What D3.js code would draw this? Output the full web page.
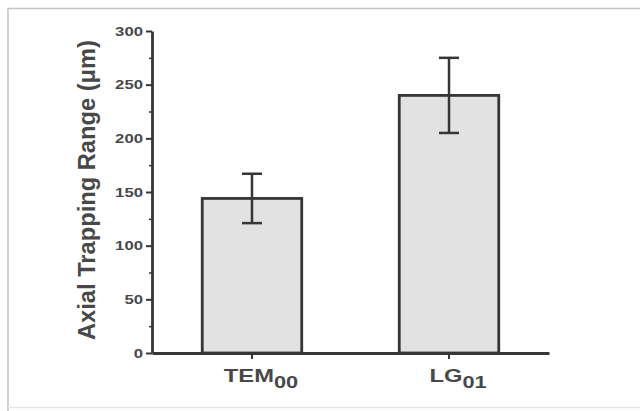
<!DOCTYPE html>
<html>
<head>
<meta charset="utf-8">
<script src="https://cdn.jsdelivr.net/npm/d3@7"></script>
<style>
  body { margin: 0; background: #fff; }
  text { font-family: "Liberation Sans", Arial, sans-serif; font-weight: bold; fill: #484848; }
</style>
</head>
<body>
<div class="chart"></div>
<script>
// Axial trapping range for the two beam modes, mean with error bar

var categories = ["TEM", "LG"];
var subscripts = ["00", "01"];
var means = [144, 240];
var errors = [23, 35];
var yTicks = [0, 50, 100, 150, 200, 250, 300];

var svgWidth = 640;
var svgHeight = 411;

var margin = { top: 31, right: 91, bottom: 58, left: 152 };

var width = svgWidth - margin.left - margin.right;
var height = svgHeight - margin.top - margin.bottom;

var svg = d3.select(".chart")
  .append("svg")
  .attr("width", svgWidth)
  .attr("height", svgHeight);

// faint frame of the scanned figure
svg.append("path")
  .attr("d", "M8,411 L8,8.5 L640,8.5")
  .attr("fill", "none")
  .attr("stroke", "#c4c4c4")
  .attr("stroke-width", 1.5);

svg.append("line")
  .attr("x1", 8).attr("x2", 640)
  .attr("y1", 407.5).attr("y2", 407.5)
  .attr("stroke", "#e6e6e6")
  .attr("stroke-width", 1.5);

var chart = svg.append("g")
  .attr("transform", "translate(" + margin.left + "," + margin.top + ")");

var x = d3.scaleBand()
  .domain(categories)
  .range([0, width])
  .paddingInner(0.495)
  .paddingOuter(0.255);

var y = d3.scaleLinear()
  .domain([0, 300])
  .range([height, 0]);

var ink = "#363636";

// bars
chart.selectAll("rect.bar")
  .data(means)
  .enter().append("rect")
  .attr("class", "bar")
  .attr("x", function(d, i) { return x(categories[i]); })
  .attr("y", function(d) { return y(d); })
  .attr("width", x.bandwidth())
  .attr("height", function(d) { return y(0) - y(d); })
  .attr("fill", "#e2e2e2")
  .attr("stroke", ink)
  .attr("stroke-width", 2.8);

// error bars
var err = chart.selectAll("g.err")
  .data(means)
  .enter().append("g")
  .attr("class", "err")
  .attr("transform", function(d, i) { return "translate(" + (x(categories[i]) + x.bandwidth() / 2) + ",0)"; })
  .attr("stroke", ink)
  .attr("stroke-width", 2.5);

err.append("line")
  .attr("y1", function(d, i) { return y(d - errors[i]); })
  .attr("y2", function(d, i) { return y(d + errors[i]); });

err.append("line")
  .attr("x1", -10).attr("x2", 10)
  .attr("y1", function(d, i) { return y(d + errors[i]); })
  .attr("y2", function(d, i) { return y(d + errors[i]); });

err.append("line")
  .attr("x1", -10).attr("x2", 10)
  .attr("y1", function(d, i) { return y(d - errors[i]); })
  .attr("y2", function(d, i) { return y(d - errors[i]); });

// minor ticks on y
chart.append("g")
  .call(d3.axisLeft(y).tickValues(d3.range(25, 300, 50)).tickSize(3).tickFormat(""))
  .call(function(g) { g.select(".domain").remove(); })
  .selectAll("line").attr("stroke", ink).attr("stroke-width", 1.5);

// y axis
var yAxis = chart.append("g")
  .call(d3.axisLeft(y).tickValues(yTicks).tickSize(6).tickSizeOuter(0).tickPadding(3));
yAxis.select(".domain").attr("stroke", ink).attr("stroke-width", 2.8);
yAxis.selectAll("line").attr("stroke", ink).attr("stroke-width", 2);
yAxis.selectAll("text")
  .attr("font-size", 13.5)
  .attr("fill", "#484848")
  .attr("textLength", function(d) { return String(d).length * 9.3; })
  .attr("lengthAdjust", "spacingAndGlyphs");

// x axis
var xAxis = chart.append("g")
  .attr("transform", "translate(0," + height + ")")
  .call(d3.axisBottom(x).tickSize(6).tickSizeOuter(0).tickFormat(""));
xAxis.select(".domain").attr("stroke", ink).attr("stroke-width", 2.8);
xAxis.selectAll("line").attr("stroke", ink).attr("stroke-width", 2);

// category labels with subscripts (the figure's font is wide, so stretch it)
var labels = chart.selectAll("text.cat")
  .data(categories)
  .enter().append("text")
  .attr("class", "cat")
  .attr("transform", function(d) {
    return "translate(" + (x(d) + x.bandwidth() / 2 + 9) + "," + (height + 29) + ") scale(1.32,1)";
  })
  .attr("text-anchor", "middle")
  .attr("font-size", 18);

labels.append("tspan").text(function(d) { return d; });
labels.append("tspan")
  .attr("dy", 6)
  .attr("font-size", 16.5)
  .text(function(d, i) { return subscripts[i]; });

// y axis label
chart.append("text")
  .attr("transform", "rotate(-90)")
  .attr("x", -(190 - margin.top))
  .attr("y", -57)
  .attr("text-anchor", "middle")
  .attr("font-size", 23.5)
  .attr("textLength", 300)
  .attr("lengthAdjust", "spacingAndGlyphs")
  .text("Axial Trapping Range (\u03bcm)");
</script>
</body>
</html>
